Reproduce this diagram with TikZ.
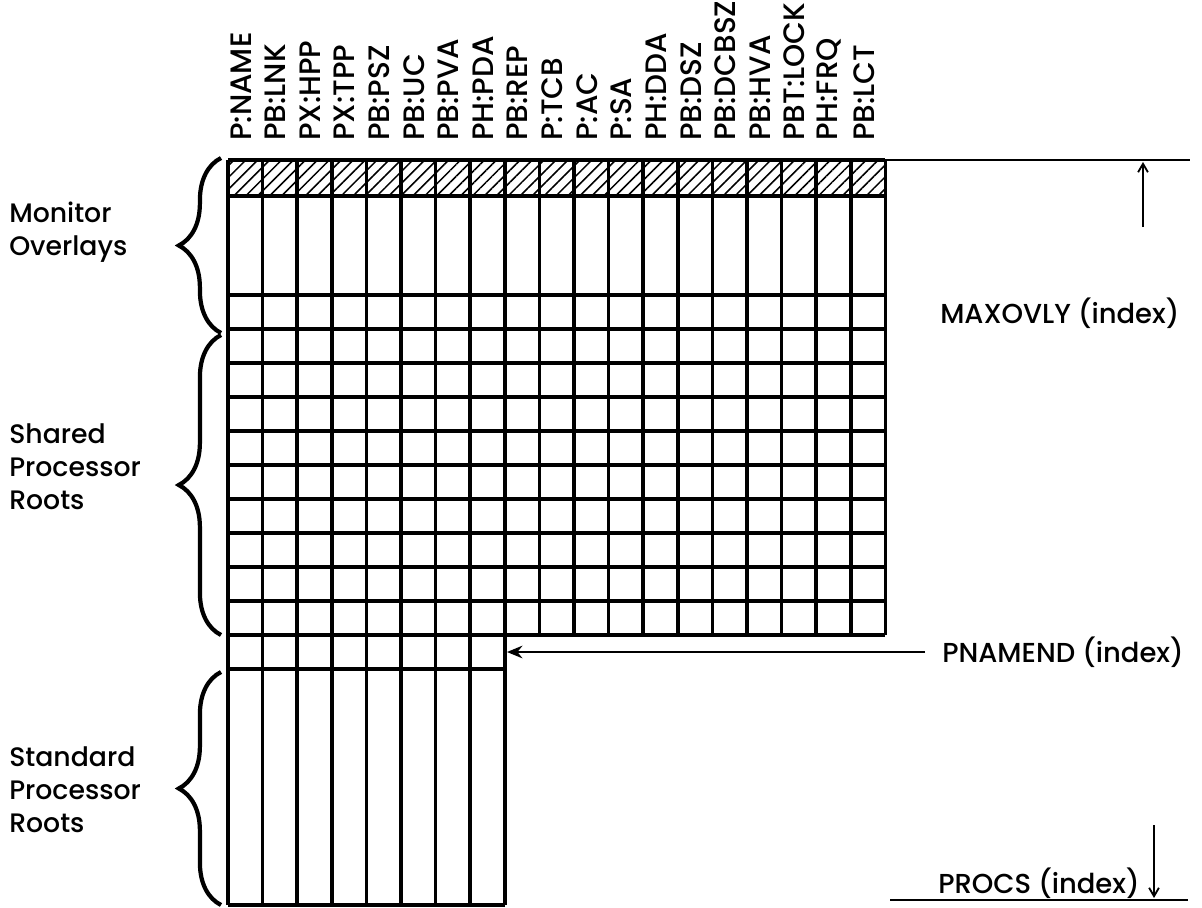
\documentclass[tikz,border=0pt]{standalone}
\usepackage{fontspec}
\setmainfont{Poppins}[UprightFont={* Medium}]
\usetikzlibrary{decorations.pathreplacing,patterns.meta,arrows.meta}
\tikzset{
  gridline/.style={line width=2.5pt},
  thinline/.style={line width=1.3pt},
  hatchcell/.style={pattern={Lines[angle=45,distance=6pt,line width=1.1pt]}},
  colhead/.style={rotate=90,anchor=west,inner sep=0pt,font=\fontsize{21}{21}\selectfont},
  sidetext/.style={anchor=west,align=left,inner sep=0pt,font=\fontsize{19}{23.5}\selectfont},
  indextext/.style={anchor=west,inner sep=0pt,font=\fontsize{19.5}{19.5}\selectfont},
  bigbrace/.style={decorate,decoration={brace,amplitude=30pt,aspect=0.5},line width=3pt},
}

\begin{document}
\begin{tikzpicture}[x={(0.025cm,0cm)},y={(0cm,-0.025cm)}]
\useasboundingbox (0,0) rectangle (1202,907);

% hatched first row
\fill[hatchcell] (228,160) rectangle (885.4,196);

% column headers
\foreach \name [count=\i from 0] in {P:NAME,PB:LNK,PX:HPP,PX:TPP,PB:PSZ,PB:UC,PB:PVA,PH:PDA,PB:REP,P:TCB,P:AC,P:SA,PH:DDA,PB:DSZ,PB:DCBSZ,PB:HVA,PBT:LOCK,PH:FRQ,PB:LCT}
  \node[colhead] (head\i) at (228+34.6*\i+13,141) {\name};

% columns
\foreach \i in {0,...,8}
  \draw[gridline] (228+34.6*\i,160) -- (228+34.6*\i,905);
\foreach \i in {9,...,19}
  \draw[gridline] (228+34.6*\i,160) -- (228+34.6*\i,635);

% rows
\foreach \y in {160,196,295,329,363,...,635}
  \draw[gridline] (228,\y) -- (885.4,\y);
\draw[gridline] (228,669) -- (504.8,669);
\draw[gridline] (228,905) -- (504.8,905);
\draw[thinline] (885.4,160) -- (1190,160);

% braces and region names
\draw[bigbrace] (221,333) -- (221,158);
\draw[bigbrace] (221,635) -- (221,335);
\draw[bigbrace] (221,905) -- (221,672);

\node[sidetext] (monitor) at (9,232) {Monitor\\Overlays};
\node[sidetext] (shared) at (9,467) {Shared\\Processor\\Roots};
\node[sidetext] (standard) at (9,790) {Standard\\Processor\\Roots};

% index marks
\node[indextext] (maxovly) at (940,313) {MAXOVLY (index)};
\coordinate (maxfoot) at (1143,227);
\coordinate (maxhead) at (1143,162);
\draw[thinline,-{Straight Barb[length=6pt,width=7pt]}] (maxfoot) -- (maxhead);

\node[indextext] (pnamend) at (942,652) {PNAMEND (index)};
\coordinate (pnamendrow) at (507,652);
\draw[thinline,shorten <=12pt,-{Stealth[length=11pt,width=9pt]}] (pnamend.west) -- (pnamendrow);

\node[indextext] (procs) at (938,883) {PROCS (index)};
\draw[thinline] (890,900) -- (1188,900);
\coordinate (procshead) at (1154,898);
\coordinate (procsfoot) at (1154,825);
\draw[thinline,-{Straight Barb[length=6pt,width=7pt]}] (procsfoot) -- (procshead);
\end{tikzpicture}
\end{document}
